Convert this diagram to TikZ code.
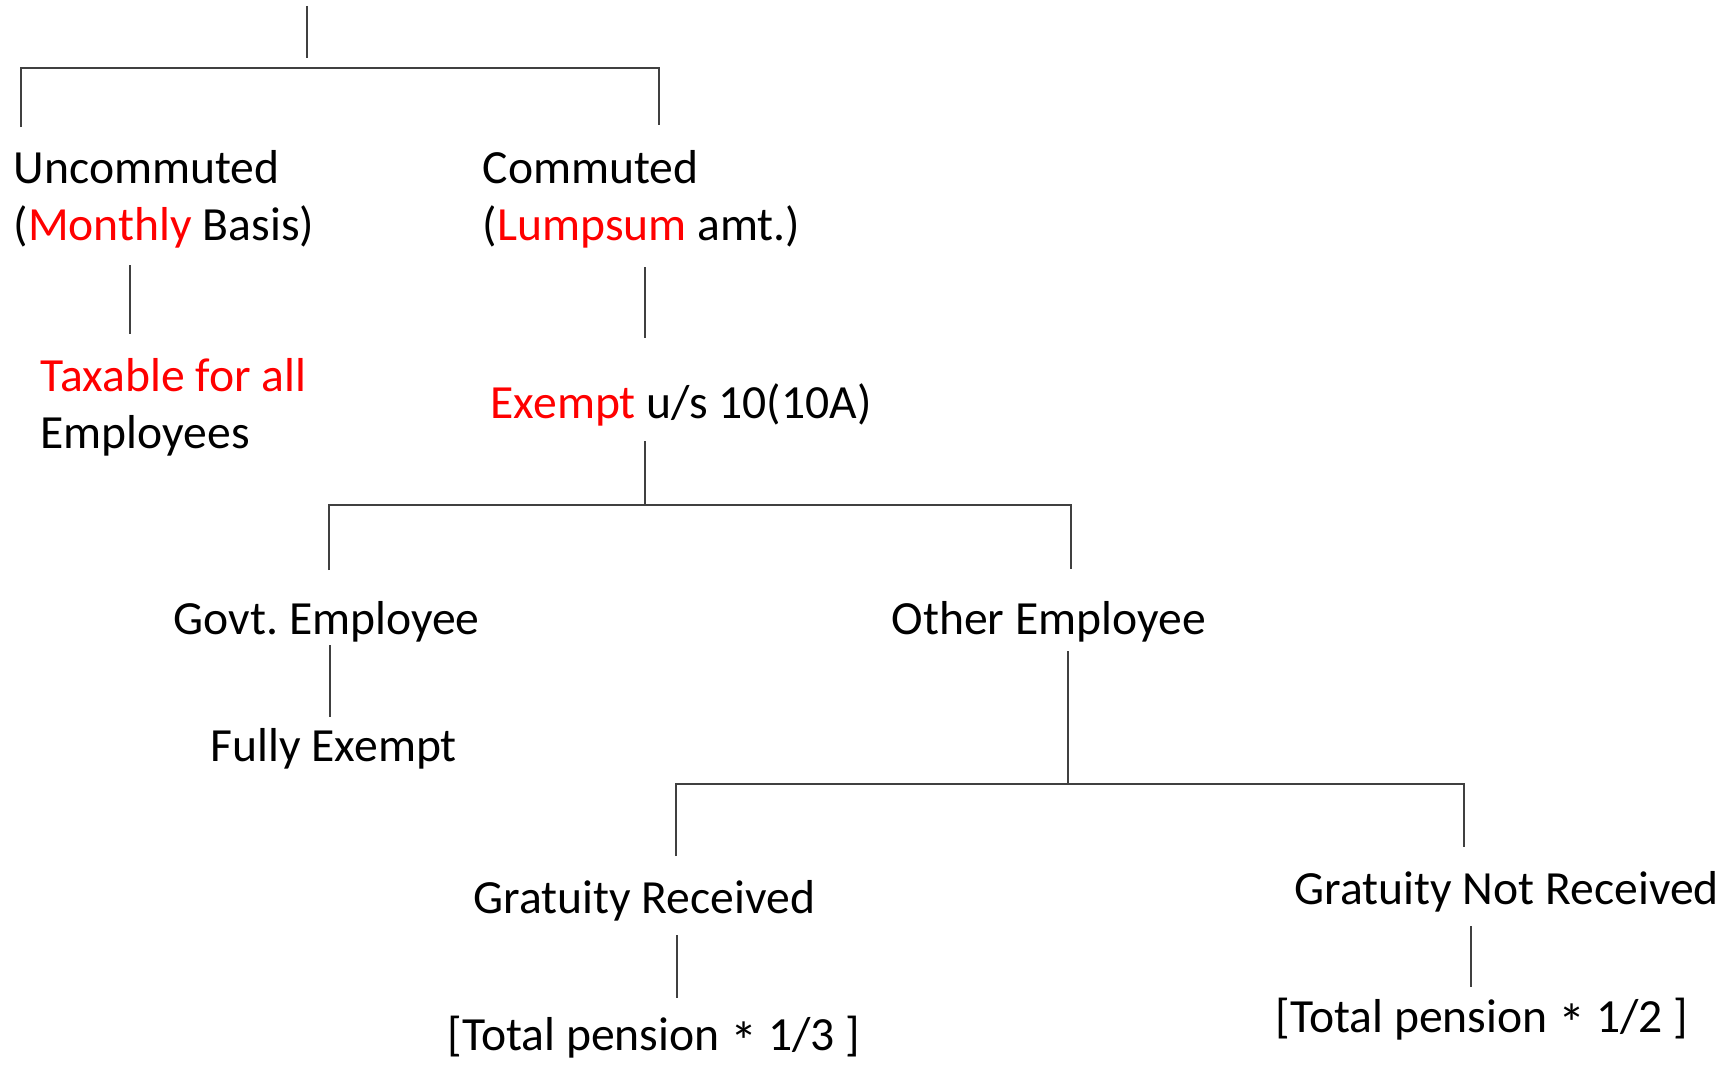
\documentclass[tikz,border=0pt]{standalone}
\usepackage{fontspec}
\setmainfont{Carlito}
\usepackage{xcolor}
\usetikzlibrary{calc,positioning}
\newcommand{\timesmark}{{\fontsize{15.5}{15.5}\selectfont\raisebox{-0.2em}{*}}}
\frenchspacing

\begin{document}
\begin{tikzpicture}[x=0.1mm,y=-0.1mm,
  txt/.style={anchor=base west,inner sep=0pt,align=left,font=\fontsize{13.55}{16.2}\selectfont},
  link/.style={black!75,line width=0.16mm}]
  \useasboundingbox (0,0) rectangle (1729,1067); % fix page size

  % texts
  \node[txt] (unc) at (13,240) {Uncommuted\\(\textcolor{red}{Monthly} Basis)};
  \node[txt] (com) at (482,240) {Commuted\\(\textcolor{red}{Lumpsum} amt.)};
  \node[txt] (tax) at (40,448) {\textcolor{red}{Taxable for all}\\Employees};
  \node[txt] (exm) at (490,418) {\textcolor{red}{Exempt} u/s 10(10A)};
  \node[txt] (gov) at (173,634) {Govt. Employee};
  \node[txt] (oth) at (891,634) {Other Employee};
  \node[txt] (ful) at (210,761) {Fully Exempt};
  \node[txt] (grec) at (473,913) {Gratuity Received};
  \node[txt] (gnot) at (1294,904) {Gratuity Not Received};
  \node[txt] (third) at (447,1050) {[Total pension \timesmark{} 1/3 ]};
  \node[txt] (half) at (1275,1032) {[Total pension \timesmark{} 1/2 ]};

  % line ends
  \coordinate (top) at (307,6);
  \coordinate (j1) at (307,58);
  \coordinate (b1l) at (21,68);
  \coordinate (b1r) at (659,68);
  \coordinate (unc-in) at (21,127);
  \coordinate (com-in) at (659,125);
  \coordinate (unc-out) at (130,265);
  \coordinate (tax-in) at (130,334);
  \coordinate (com-out) at (645,267);
  \coordinate (exm-in) at (645,338);
  \coordinate (exm-out) at (645,441);
  \coordinate (j2) at (645,505);
  \coordinate (b2l) at (329,505);
  \coordinate (b2r) at (1071,505);
  \coordinate (gov-in) at (329,570);
  \coordinate (oth-in) at (1071,569);
  \coordinate (gov-out) at (330,645);
  \coordinate (ful-in) at (330,717);
  \coordinate (oth-out) at (1068,651);
  \coordinate (j3) at (1068,784);
  \coordinate (b3l) at (676,784);
  \coordinate (b3r) at (1464,784);
  \coordinate (grec-in) at (676,856);
  \coordinate (gnot-in) at (1464,847);
  \coordinate (grec-out) at (677,935);
  \coordinate (third-in) at (677,998);
  \coordinate (gnot-out) at (1471,926);
  \coordinate (half-in) at (1471,987);

  % connectors
  \draw[link] (top) -- (j1);
  \draw[link] (unc-in) -- (b1l) -- (b1r) -- (com-in);
  \draw[link] (unc-out) -- (tax-in);
  \draw[link] (com-out) -- (exm-in);
  \draw[link] (exm-out) -- (j2);
  \draw[link] (gov-in) -- (b2l) -- (b2r) -- (oth-in);
  \draw[link] (gov-out) -- (ful-in);
  \draw[link] (oth-out) -- (j3);
  \draw[link] (grec-in) -- (b3l) -- (b3r) -- (gnot-in);
  \draw[link] (grec-out) -- (third-in);
  \draw[link] (gnot-out) -- (half-in);
\end{tikzpicture}
\end{document}
